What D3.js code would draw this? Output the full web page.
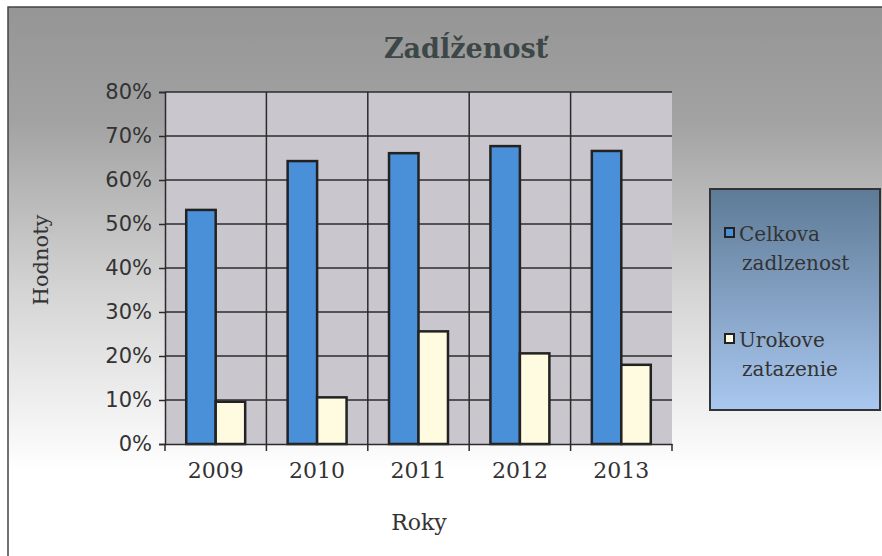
<!DOCTYPE html>
<html>
<head>
<meta charset="utf-8">
<script src="https://cdn.jsdelivr.net/npm/d3@7"></script>
<style>
  body { margin: 0; background: #fff; }
</style>
</head>
<body>
<div id="main_div"></div>
<script>
/** data **/
const years = ["2009", "2010", "2011", "2012", "2013"];
const celkova = [0.532, 0.643, 0.661, 0.677, 0.666];
const urokove = [0.096, 0.106, 0.256, 0.206, 0.180];
const seriesNames = ["Celkova zadlzenost", "Urokove zatazenie"];
const yTicks = [0, 0.1, 0.2, 0.3, 0.4, 0.5, 0.6, 0.7, 0.8];
const colors = ["#4a90d9", "#fffbe0"];

const SERIF = "'DejaVu Serif', 'Liberation Serif', serif";
const SANS = "'DejaVu Sans', 'Liberation Sans', sans-serif";

const W = 882, H = 556;
const plot = { left: 165, right: 672, top: 92, bottom: 444 };

const svg = d3.select("#main_div").append("svg")
    .attr("width", W).attr("height", H);

const defs = svg.append("defs");
let bg = defs.append("linearGradient").attr("id", "bg")
    .attr("x1", 0).attr("y1", 0).attr("x2", 0).attr("y2", 1);
bg.append("stop").attr("offset", "0").attr("stop-color", "#959595");
bg.append("stop").attr("offset", "0.2").attr("stop-color", "#a2a2a2");
bg.append("stop").attr("offset", "0.5").attr("stop-color", "#d4d4d4");
bg.append("stop").attr("offset", "0.82").attr("stop-color", "#ffffff");

let lg = defs.append("linearGradient").attr("id", "lg")
    .attr("x1", 0).attr("y1", 0).attr("x2", 0).attr("y2", 1);
lg.append("stop").attr("offset", "0").attr("stop-color", "#5d7a96");
lg.append("stop").attr("offset", "1").attr("stop-color", "#aac8f0");

/** outer frame (right and bottom edges run off the page) */
svg.append("rect")
    .attr("x", 8).attr("y", 7).attr("width", W + 10).attr("height", H + 10)
    .style("fill", "url(#bg)")
    .style("stroke", "#444").style("stroke-width", 1.5);

/** scales */
const xScale = d3.scaleBand().domain(years).range([plot.left, plot.right]);
const yScale = d3.scaleLinear().domain([0, 0.8]).range([plot.bottom, plot.top]);
const inner = d3.scaleBand().domain([0, 1]).range([0, xScale.bandwidth()])
    .paddingInner(0).paddingOuter(0.72);

/** plot area */
svg.append("rect")
    .attr("x", plot.left).attr("y", plot.top)
    .attr("width", plot.right - plot.left).attr("height", plot.bottom - plot.top)
    .style("fill", "#c9c7cd");

/** grid */
svg.append("g").selectAll("line").data(yTicks.slice(1)).enter()
    .append("line")
    .attr("x1", plot.left).attr("x2", plot.right)
    .attr("y1", d => yScale(d)).attr("y2", d => yScale(d))
    .style("stroke", "#2b2b2b").style("stroke-width", 1.5);

svg.append("g").selectAll("line").data(years.slice(1)).enter()
    .append("line")
    .attr("x1", d => xScale(d)).attr("x2", d => xScale(d))
    .attr("y1", plot.top).attr("y2", plot.bottom)
    .style("stroke", "#2b2b2b").style("stroke-width", 1.5);

/** bars */
const groups = svg.append("g").selectAll("g").data(years).enter()
    .append("g")
    .attr("transform", d => "translate(" + xScale(d) + ",0)");

groups.selectAll("rect")
    .data((d, i) => [celkova[i], urokove[i]])
    .enter().append("rect")
    .attr("x", (d, j) => inner(j))
    .attr("width", inner.bandwidth())
    .attr("y", d => yScale(d))
    .attr("height", d => plot.bottom - yScale(d))
    .style("fill", (d, j) => colors[j])
    .style("stroke", "#222").style("stroke-width", 2.5);

/** axes */
const yAxis = d3.axisLeft(yScale).tickValues(yTicks)
    .tickFormat(d3.format(".0%")).tickSize(6).tickPadding(7);
const yg = svg.append("g").attr("transform", "translate(" + plot.left + ",0)").call(yAxis);
yg.attr("font-family", null).attr("font-size", null);
yg.select(".domain").style("stroke", "#2b2b2b").style("stroke-width", 1.5);
yg.selectAll(".tick line").style("stroke", "#2b2b2b").style("stroke-width", 1.5);
yg.selectAll("text").style("font-family", SANS).style("font-size", "21px").style("fill", "#333");

const xAxis = d3.axisBottom(xScale).tickSize(0).tickPadding(18);
const xg = svg.append("g").attr("transform", "translate(0," + plot.bottom + ")").call(xAxis);
xg.attr("font-family", null).attr("font-size", null);
xg.select(".domain").style("stroke", "#2b2b2b").style("stroke-width", 1.5);
xg.selectAll("text").style("font-family", SERIF).style("font-size", "22px").style("fill", "#333");
// tick marks at category boundaries
xg.selectAll(".boundary").data(years.concat(["end"])).enter()
    .append("line")
    .attr("x1", d => d === "end" ? plot.right : xScale(d))
    .attr("x2", d => d === "end" ? plot.right : xScale(d))
    .attr("y1", 0).attr("y2", 7)
    .style("stroke", "#2b2b2b").style("stroke-width", 1.5);

/** titles */
svg.append("text")
    .attr("x", 466).attr("y", 58).attr("text-anchor", "middle")
    .style("font-family", SERIF)
    .style("font-size", "27px").style("font-weight", "bold").style("fill", "#3d4747")
    .text("Zadĺženosť");

svg.append("text")
    .attr("transform", "translate(48,260) rotate(-90)").attr("text-anchor", "middle")
    .style("font-family", SERIF)
    .style("font-size", "21px").style("fill", "#333")
    .text("Hodnoty");

svg.append("text")
    .attr("x", 419).attr("y", 530).attr("text-anchor", "middle")
    .style("font-family", SERIF)
    .style("font-size", "22px").style("fill", "#333")
    .text("Roky");

/** legend */
svg.append("rect")
    .attr("x", 710).attr("y", 189).attr("width", 170).attr("height", 221)
    .style("fill", "url(#lg)").style("stroke", "#333").style("stroke-width", 2);

const legendY = [241, 347];
for (let i = 0; i < seriesNames.length; i++) {
    svg.append("rect")
        .attr("x", 725).attr("y", legendY[i] - 13)
        .attr("width", 9).attr("height", 9)
        .style("fill", colors[i]).style("stroke", "#222").style("stroke-width", 2);
    const words = seriesNames[i].split(" ");
    const t = svg.append("text")
        .style("font-family", SERIF)
        .style("font-size", "20px").style("fill", "#333");
    t.append("tspan").attr("x", 739).attr("y", legendY[i]).text(words[0]);
    t.append("tspan").attr("x", 742).attr("y", legendY[i] + 29).text(words[1]);
}
</script>
</body>
</html>
